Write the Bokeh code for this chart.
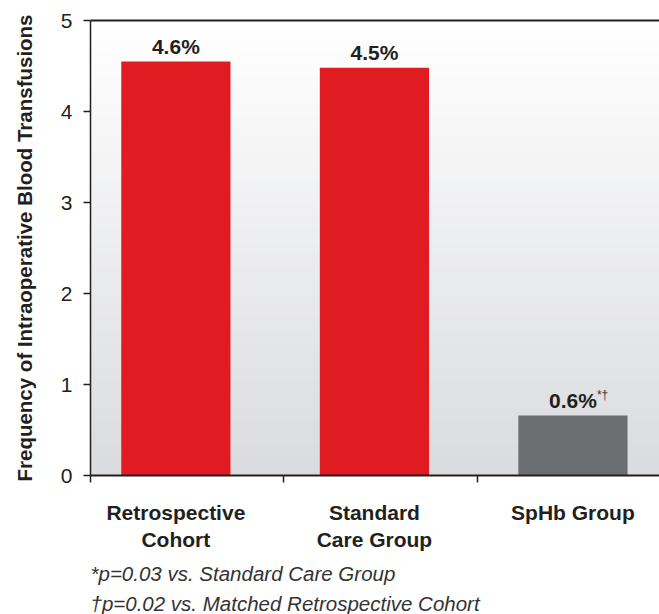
import numpy as np
from bokeh.plotting import figure
from bokeh.models import Range1d, FixedTicker, LinearAxis, Title
from bokeh.core.properties import value
from bokeh.embed import file_html
from bokeh.resources import INLINE

# ---- data ----
categories = ["Retrospective\nCohort", "Standard\nCare Group", "SpHb Group"]
frequencies = [4.55, 4.48, 0.66]
bar_labels = ["4.6%", "4.5%", "0.6%"]
bar_marks = ["", "", "*\u2020"]
bar_colors = ["#e01b22", "#e01b22", "#6d6e71"]
y_ticks = [0, 1, 2, 3, 4, 5]
footnotes = ["*p=0.03 vs. Standard Care Group",
             "\u2020p=0.02 vs. Matched Retrospective Cohort"]
y_title = "Frequency of Intraoperative Blood Transfusions"

FONT = "Liberation Sans"
TEXT = "#231f20"
X0, X1 = -0.43, 2.436
x = list(range(len(categories)))

p = figure(width=659, height=614, x_range=Range1d(X0, X1), y_range=Range1d(0, 5),
           output_backend="svg", toolbar_location=None,
           min_border_left=90, min_border_right=0, min_border_top=20,
           min_border_bottom=138)
p.grid.visible = False
p.outline_line_color = None
p.background_fill_color = "white"
p.border_fill_color = "white"

# background gradient (styling only)
edges = np.linspace(0, 5, 101)
mid = (edges[:-1] + edges[1:]) / 2 / 5
top_c = np.array([255, 255, 255])
bot_c = np.array([218, 219, 222])
cols = ["#%02x%02x%02x" % tuple(int(round(v)) for v in (bot_c + (top_c - bot_c) * t)) for t in mid]
p.quad(left=X0, right=X1, bottom=edges[:-1], top=edges[1:], fill_color=cols,
       line_color=cols, line_width=1)

# bars
p.vbar(x=x, top=frequencies, width=0.55, fill_color=bar_colors, line_color=None)

# value labels
p.text(x=x, y=frequencies, text=bar_labels, text_align="center",
       text_baseline="alphabetic", y_offset=-15, text_font=value(FONT),
       text_font_style="bold", text_font_size="21px", text_color=TEXT)
p.text(x=x, y=frequencies, text=bar_marks, text_align="left",
       text_baseline="alphabetic", x_offset=24, y_offset=-20, text_font=value(FONT),
       text_font_size="12px", text_color="#333333")

# y axis
ya = p.yaxis[0]
ya.ticker = FixedTicker(ticks=y_ticks, minor_ticks=[])
ya.axis_label = y_title
ya.axis_label_text_font = FONT
ya.axis_label_text_font_style = "bold"
ya.axis_label_text_font_size = "20.5px"
ya.axis_label_text_color = TEXT
ya.axis_label_standoff = 22
ya.major_label_text_font = FONT
ya.major_label_text_font_size = "21px"
ya.major_label_text_color = TEXT
ya.major_label_standoff = 11
ya.major_tick_out = 7
ya.major_tick_in = 0
ya.major_tick_line_color = TEXT
ya.major_tick_line_width = 1.5
ya.axis_line_color = TEXT
ya.axis_line_width = 1.5

# x axis
xa = p.xaxis[0]
xa.ticker = FixedTicker(ticks=x, minor_ticks=[X0, 0.54, 1.52])
xa.major_label_overrides = {i: c for i, c in zip(x, categories)}
xa.major_tick_line_color = None
xa.major_tick_out = 0
xa.major_tick_in = 0
xa.minor_tick_out = 7
xa.minor_tick_in = 0
xa.minor_tick_line_color = TEXT
xa.minor_tick_line_width = 1.5
xa.axis_line_color = TEXT
xa.axis_line_width = 2
xa.major_label_text_font = FONT
xa.major_label_text_font_style = "bold"
xa.major_label_text_font_size = "21px"
xa.major_label_text_color = TEXT
xa.major_label_standoff = 18

# top border line
top = LinearAxis(ticker=FixedTicker(ticks=[], minor_ticks=[]),
                 major_label_text_font_size="0px", axis_line_color=TEXT,
                 axis_line_width=2, major_tick_line_color=None,
                 minor_tick_line_color=None)
p.add_layout(top, "above")

# footnotes
for i, fn in enumerate(footnotes):
    p.add_layout(Title(text=fn, align="left", text_font=FONT,
                       text_font_style="italic", text_font_size="20.5px",
                       text_color="#333333", standoff=(10 if i == 0 else 0),
                       offset=0), "below")

open("out.html", "w").write(file_html(p, INLINE))
